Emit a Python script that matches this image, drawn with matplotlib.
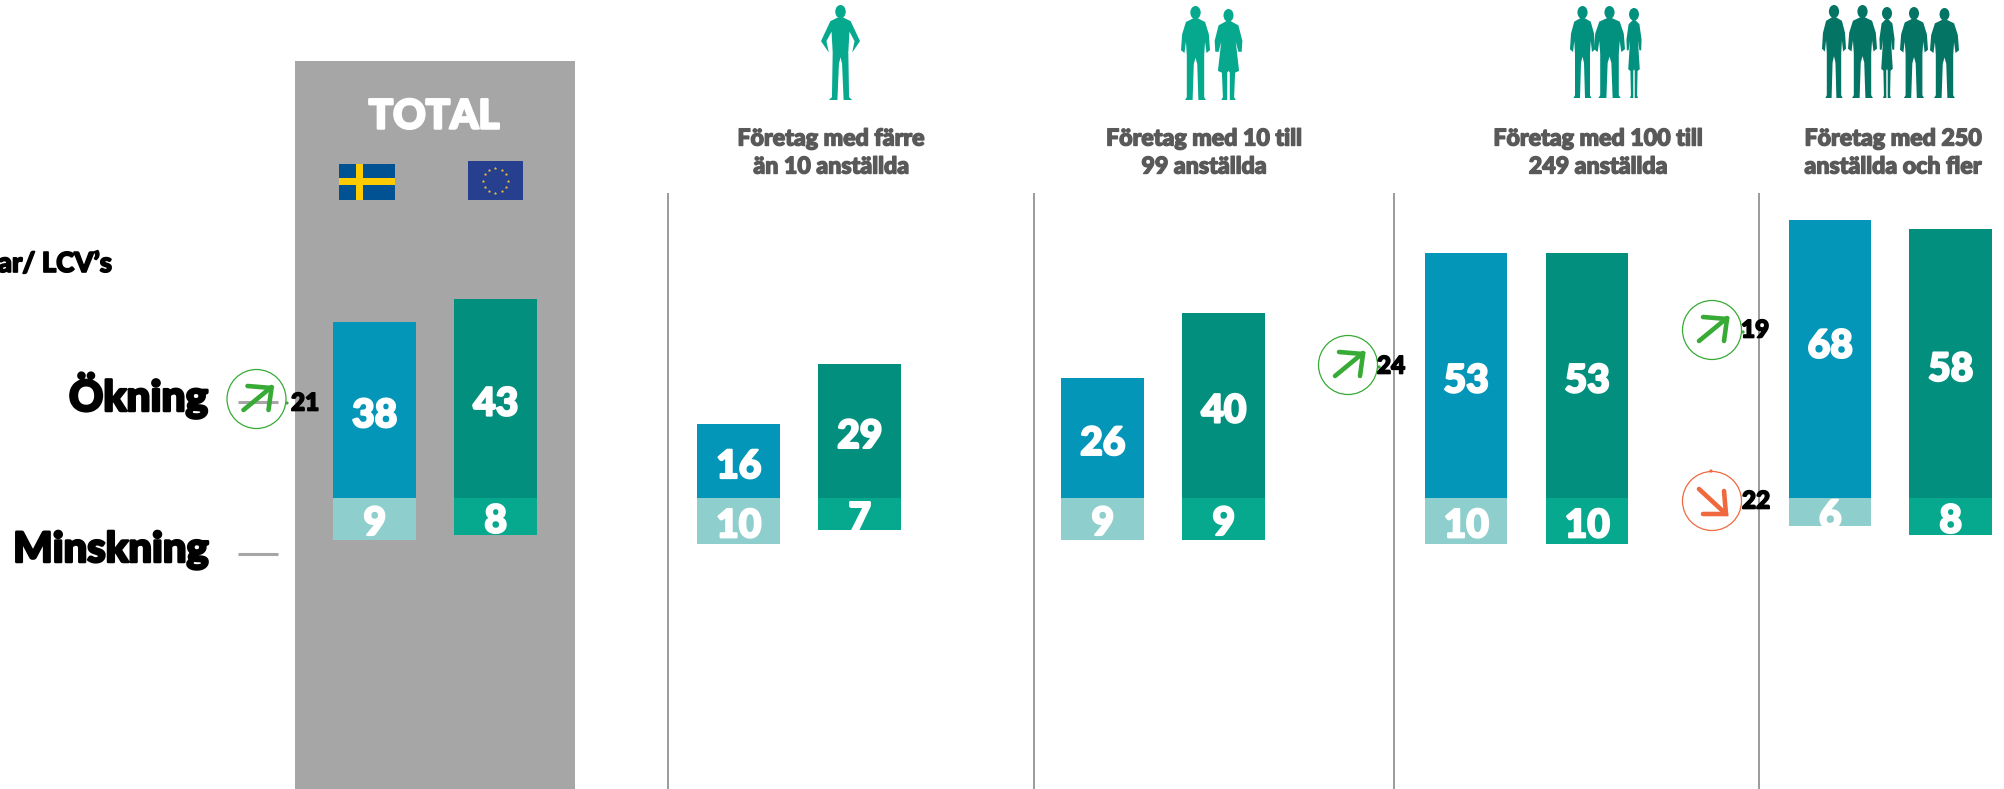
import numpy as np
import matplotlib
matplotlib.use("Agg")
import matplotlib.pyplot as plt
import matplotlib.patheffects as pe
from matplotlib.patches import Rectangle, Circle, Ellipse, Polygon

# ---------- data ----------
groups = ["TOTAL", "Företag med färre\nän 10 anställda", "Företag med 10 till\n99 anställda",
          "Företag med 100 till\n249 anställda", "Företag med 250\nanställda och fler"]
se_increase = [38, 16, 26, 53, 68]
eu_increase = [43, 29, 40, 53, 58]
se_decrease = [9, 10, 9, 10, 6]
eu_decrease = [8, 7, 9, 10, 8]
# the reference draws the bar labelled 68 only as tall as 60
se_increase_drawn = [38, 16, 26, 53, 60]
row_labels = ["Ökning", "Minskning"]
side_label = "ar/ LCV’s"
diff_values = [21, 24, 19, 22]
diff_up = [True, True, True, False]

# ---------- layout ----------
W, H = 2004, 789
BASE = 498.0      # pixel row of the zero line
PX_PER_UNIT = 4.63
BAR_W = 82.5
se_left = [333.5, 697.5, 1061.5, 1425, 1789]
eu_left = [454.5, 818.5, 1182.5, 1546, 1909.5]
title_x = [None, 831, 1204, 1598, 1893]
dividers = [668.5, 1034, 1394, 1759]
c_se_up, c_se_dn, c_eu_up, c_eu_dn = "#0396b9", "#8ecfce", "#028f7e", "#06a88e"
FONT = ["Lato", "DejaVu Sans"]
WEIGHT = "black"


def heavy(color, w=1.0):
    return [pe.withStroke(linewidth=w, foreground=color)]


fig = plt.figure(figsize=(W / 100, H / 100), dpi=100, facecolor="white")
px = fig.add_axes([0, 0, 1, 1]); px.set_xlim(0, W); px.set_ylim(H, 0); px.axis("off")
ax = fig.add_axes([0, 0, 1, 1]); ax.set_xlim(0, W)
ax.set_ylim((BASE - H) / PX_PER_UNIT, BASE / PX_PER_UNIT); ax.axis("off"); ax.patch.set_alpha(0)
top = fig.add_axes([0, 0, 1, 1]); top.set_xlim(0, W); top.set_ylim(H, 0); top.axis("off"); top.patch.set_alpha(0)

# panel and dividers
px.add_patch(Rectangle((295, 61), 280, H - 61, fc="#a6a6a6", ec="none"))
for x in dividers:
    px.plot([x, x], [193, H], color="#808080", lw=1.1, solid_capstyle="butt")

# bars
ax.bar(se_left, se_increase_drawn, width=BAR_W, align="edge", color=c_se_up)
ax.bar(eu_left, eu_increase, width=BAR_W, align="edge", color=c_eu_up)
ax.bar(se_left, [-v for v in se_decrease], width=BAR_W, align="edge", color=c_se_dn)
ax.bar(eu_left, [-v for v in eu_decrease], width=BAR_W, align="edge", color=c_eu_dn)
for lefts, ups, dns in ((se_left, se_increase, se_decrease), (eu_left, eu_increase, eu_decrease)):
    for x, u, d in zip(lefts, ups, dns):
        ax.text(x + BAR_W / 2, u / 2 - 1.2, str(u), color="white", fontsize=28, family=FONT,
                weight=WEIGHT, ha="center", va="center", path_effects=heavy("white", 1.6))
        ax.text(x + BAR_W / 2, -d / 2 - 1.0, str(d), color="white", fontsize=28, family=FONT,
                weight=WEIGHT, ha="center", va="center", path_effects=heavy("white", 1.6))

# titles
top.text(434, 117, groups[0], color="white", fontsize=29, family=FONT, weight=WEIGHT, ha="center", va="center",
         path_effects=heavy("white", 1.8))
for x, t in zip(title_x[1:], groups[1:]):
    l1, l2 = t.split("\n")
    top.text(x, 139, l1, color="#595959", fontsize=16.7, family=FONT, weight=WEIGHT, ha="center", va="center",
             path_effects=heavy("#595959", 1.0))
    top.text(x, 167, l2, color="#595959", fontsize=16.7, family=FONT, weight=WEIGHT, ha="center", va="center",
             path_effects=heavy("#595959", 1.0))

# left labels
top.text(112, 264, side_label, color="black", fontsize=19.8, family=FONT, weight=WEIGHT, ha="right", va="center",
         path_effects=heavy("black", 1.2))
top.text(208, 411, row_labels[0], color="black", fontsize=30.5, family=FONT, weight=WEIGHT, ha="right",
         va="baseline", path_effects=heavy("black", 1.8))
top.text(208, 562, row_labels[1], color="black", fontsize=30, family=FONT, weight=WEIGHT, ha="right",
         va="baseline", path_effects=heavy("black", 1.8))
px.plot([238, 278], [402, 402], color="#a6a6a6", lw=2.2, solid_capstyle="butt")
px.plot([238, 278], [553.5, 553.5], color="#a6a6a6", lw=2.2, solid_capstyle="butt")

# flags
px.add_patch(Rectangle((339, 164), 56, 36, fc="#005293", ec="none"))
px.add_patch(Rectangle((356.5, 164), 6.5, 36, fc="#fecb00", ec="none"))
px.add_patch(Rectangle((339, 178), 56, 7, fc="#fecb00", ec="none"))
px.add_patch(Rectangle((468, 161), 55, 39, fc="#26408f", ec="none"))
ang = np.deg2rad(np.arange(0, 360, 30))
px.scatter(495.5 + 12.5 * np.cos(ang), 180.5 + 12.5 * np.sin(ang), s=3, color="#f2c230", marker="*", linewidths=0.3)

# difference badges
GREEN, ORANGE = "#37ab35", "#f0693e"
centers = [(256.5, 399), (1348, 365), (1712, 330), (1712, 501)]
text_left = [291, 1377, 1741, 1742]
text_y = [403, 366, 330, 501]
dots = [(287, 403), (1379, 367), (1743, 332), (1711, 471)]
for (cx, cy), v, up, tx, ty, dot in zip(centers, diff_values, diff_up, text_left, text_y, dots):
    c = GREEN if up else ORANGE
    top.add_patch(Circle((cx, cy), 29.5, fc="none", ec=c, lw=0.9))
    if up:
        shaft = [(-13, 11), (15, -12)]; head = [(-9, -13), (15, -11), (12, 11)]
    else:
        shaft = [(-13, -12), (14, 13)]; head = [(12, -10), (14, 13), (-9, 13)]
    for seg in (shaft, head):
        top.plot([cx + p[0] for p in seg], [cy + p[1] for p in seg], color=c, lw=3.3,
                 solid_capstyle="round", solid_joinstyle="miter")
    top.add_patch(Circle(dot, 1.6, fc=c, ec="none"))
    top.text(tx, ty, str(v), color="black", fontsize=17.5, family=FONT, weight=WEIGHT, ha="left", va="center",
             path_effects=heavy("black", 1.2))

# silhouettes (decoration)
AKIMBO = [(.06, .13), (.26, .17), (.5, .38), (.3, .5), (.36, .38), (.23, .28), (.2, .5), (.22, .97),
          (.3, 1.0), (.08, 1.0), (.04, .62), (0, .55)]
MAN = [(.07, .13), (.33, .17), (.46, .3), (.5, .47), (.38, .5), (.33, .38), (.3, .52), (.3, .75), (.3, .97),
       (.36, 1.0), (.1, 1.0), (.06, .62), (0, .55)]
WOMAN = [(.05, .13), (.3, .18), (.42, .35), (.4, .47), (.3, .47), (.22, .36), (.32, .68), (.2, .7), (.17, .97),
         (.22, 1.0), (.04, 1.0), (.04, .7), (0, .68)]


def person(x0, x1, y0, y1, color, shape):
    cx, w, h = (x0 + x1) / 2, x1 - x0, y1 - y0
    right = [(cx + p[0] * w, y0 + p[1] * h) for p in shape]
    left = [(cx - p[0] * w, y0 + p[1] * h) for p in reversed(shape)]
    px.add_patch(Polygon(right + left, closed=True, fc=color, ec="none"))
    px.add_patch(Ellipse((cx, y0 + 0.07 * h), h * 0.11, h * 0.14, fc=color, ec="none"))


people = [
    (821, 860, 5, 100, "#06a88e", AKIMBO),
    (1181, 1210, 6, 100, "#06a88e", MAN), (1212, 1245, 9, 100, "#06a88e", WOMAN),
    (1570, 1595, 6, 98, "#03917f", MAN), (1594, 1625, 6, 98, "#03917f", MAN), (1625, 1643, 8, 98, "#03917f", WOMAN),
    (1822, 1846, 5, 98, "#047565", MAN), (1848, 1877, 5, 98, "#047565", MAN), (1878, 1896, 7, 98, "#047565", WOMAN),
    (1900, 1928, 7, 98, "#047565", MAN), (1930, 1959, 8, 98, "#047565", MAN),
]
for p in people:
    person(*p)

fig.savefig("out.png", dpi=100, facecolor="white")
